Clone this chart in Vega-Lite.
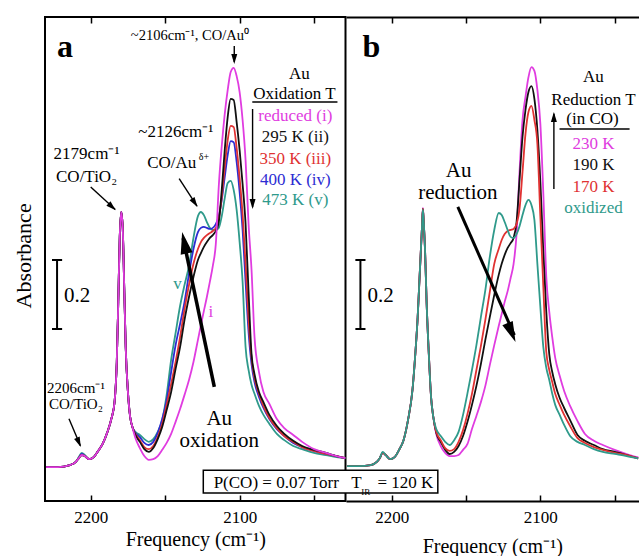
{
  "$schema": "https://vega.github.io/schema/vega-lite/v6.json",
  "background": "white",
  "padding": {"left": 12, "top": 15, "right": 0, "bottom": 0},
  "spacing": 0,
  "bounds": "flush",
  "config": {
    "font": "Liberation Serif",
    "view": {"stroke": "black", "strokeWidth": 2},
    "axis": {"labelFont": "Liberation Serif", "titleFont": "Liberation Serif", "labelColor": "black", "titleColor": "black", "tickColor": "black", "domainColor": "black", "grid": false, "titleFontWeight": "normal"},
    "text": {"font": "Liberation Serif", "color": "black"}
  },
  "datasets": {
    "specA": [
      {"w":2230,"i":0.098,"ii":0.098,"iii":0.098,"iv":0.098,"v":0.098},
      {"w":2222,"i":0.098,"ii":0.098,"iii":0.098,"iv":0.098,"v":0.098},
      {"w":2214,"i":0.104,"ii":0.104,"iii":0.104,"iv":0.104,"v":0.104},
      {"w":2210,"i":0.113,"ii":0.113,"iii":0.113,"iv":0.113,"v":0.113},
      {"w":2208,"i":0.124,"ii":0.124,"iii":0.124,"iv":0.124,"v":0.127},
      {"w":2206,"i":0.133,"ii":0.133,"iii":0.133,"iv":0.136,"v":0.139},
      {"w":2204,"i":0.130,"ii":0.130,"iii":0.130,"iv":0.130,"v":0.133},
      {"w":2201,"i":0.121,"ii":0.121,"iii":0.121,"iv":0.121,"v":0.121},
      {"w":2198,"i":0.127,"ii":0.127,"iii":0.127,"iv":0.127,"v":0.127},
      {"w":2195,"i":0.145,"ii":0.145,"iii":0.145,"iv":0.145,"v":0.145},
      {"w":2192,"i":0.165,"ii":0.165,"iii":0.165,"iv":0.165,"v":0.165},
      {"w":2189,"i":0.197,"ii":0.197,"iii":0.197,"iv":0.197,"v":0.197},
      {"w":2186,"i":0.240,"ii":0.240,"iii":0.240,"iv":0.240,"v":0.240},
      {"w":2184,"i":0.286,"ii":0.286,"iii":0.286,"iv":0.286,"v":0.286},
      {"w":2182.5,"i":0.402,"ii":0.402,"iii":0.402,"iv":0.402,"v":0.402},
      {"w":2181.5,"i":0.576,"ii":0.576,"iii":0.576,"iv":0.576,"v":0.576},
      {"w":2180.5,"i":0.764,"ii":0.764,"iii":0.764,"iv":0.764,"v":0.764},
      {"w":2179.5,"i":0.836,"ii":0.836,"iii":0.836,"iv":0.836,"v":0.836},
      {"w":2178.5,"i":0.790,"ii":0.790,"iii":0.790,"iv":0.790,"v":0.790},
      {"w":2177.5,"i":0.619,"ii":0.619,"iii":0.619,"iv":0.619,"v":0.619},
      {"w":2176.5,"i":0.445,"ii":0.445,"iii":0.445,"iv":0.445,"v":0.445},
      {"w":2175,"i":0.315,"ii":0.315,"iii":0.315,"iv":0.315,"v":0.315},
      {"w":2173.5,"i":0.243,"ii":0.243,"iii":0.243,"iv":0.243,"v":0.243},
      {"w":2172,"i":0.214,"ii":0.214,"iii":0.214,"iv":0.214,"v":0.214},
      {"w":2170,"i":0.182,"ii":0.191,"iii":0.194,"iv":0.197,"v":0.200},
      {"w":2167,"i":0.153,"ii":0.171,"iii":0.176,"iv":0.185,"v":0.191},
      {"w":2164,"i":0.130,"ii":0.150,"iii":0.156,"iv":0.168,"v":0.179},
      {"w":2161,"i":0.119,"ii":0.142,"iii":0.150,"iv":0.162,"v":0.171},
      {"w":2158,"i":0.121,"ii":0.153,"iii":0.159,"iv":0.171,"v":0.179},
      {"w":2155,"i":0.130,"ii":0.179,"iii":0.185,"iv":0.197,"v":0.200},
      {"w":2152,"i":0.148,"ii":0.214,"iii":0.223,"iv":0.237,"v":0.234},
      {"w":2149,"i":0.168,"ii":0.263,"iii":0.278,"iv":0.292,"v":0.307},
      {"w":2146,"i":0.194,"ii":0.315,"iii":0.338,"iv":0.373,"v":0.408},
      {"w":2143,"i":0.229,"ii":0.382,"iii":0.402,"iv":0.451,"v":0.486},
      {"w":2140,"i":0.266,"ii":0.445,"iii":0.474,"iv":0.512,"v":0.564},
      {"w":2137,"i":0.307,"ii":0.524,"iii":0.555,"iv":0.576,"v":0.625},
      {"w":2134,"i":0.350,"ii":0.590,"iii":0.625,"iv":0.657,"v":0.680},
      {"w":2131,"i":0.402,"ii":0.648,"iii":0.686,"iv":0.729,"v":0.761},
      {"w":2128,"i":0.466,"ii":0.697,"iii":0.729,"iv":0.778,"v":0.824},
      {"w":2126,"i":0.509,"ii":0.717,"iii":0.749,"iv":0.790,"v":0.836},
      {"w":2124,"i":0.550,"ii":0.735,"iii":0.761,"iv":0.793,"v":0.827},
      {"w":2122,"i":0.590,"ii":0.749,"iii":0.769,"iv":0.790,"v":0.807},
      {"w":2120,"i":0.634,"ii":0.761,"iii":0.775,"iv":0.787,"v":0.790},
      {"w":2118,"i":0.680,"ii":0.769,"iii":0.781,"iv":0.790,"v":0.784},
      {"w":2116,"i":0.743,"ii":0.781,"iii":0.790,"iv":0.801,"v":0.784},
      {"w":2114,"i":0.911,"ii":0.807,"iii":0.816,"iv":0.824,"v":0.790},
      {"w":2112,"i":1.027,"ii":0.900,"iii":0.879,"iv":0.871,"v":0.824},
      {"w":2110,"i":1.119,"ii":1.015,"iii":0.966,"iv":0.937,"v":0.876},
      {"w":2108,"i":1.189,"ii":1.111,"iii":1.044,"iv":1.001,"v":0.920},
      {"w":2106,"i":1.241,"ii":1.163,"iii":1.085,"iv":1.041,"v":0.926},
      {"w":2104,"i":1.253,"ii":1.160,"iii":1.082,"iv":1.038,"v":0.900},
      {"w":2102,"i":1.229,"ii":1.096,"iii":1.021,"iv":0.981,"v":0.842},
      {"w":2100,"i":1.183,"ii":1.015,"iii":0.934,"iv":0.894,"v":0.749},
      {"w":2098,"i":1.102,"ii":0.917,"iii":0.830,"iv":0.784,"v":0.634},
      {"w":2096,"i":0.986,"ii":0.801,"iii":0.686,"iv":0.634,"v":0.445},
      {"w":2094,"i":0.801,"ii":0.605,"iii":0.524,"iv":0.489,"v":0.379},
      {"w":2092,"i":0.668,"ii":0.425,"iii":0.414,"iv":0.396,"v":0.336},
      {"w":2090,"i":0.474,"ii":0.367,"iii":0.356,"iv":0.344,"v":0.310},
      {"w":2087,"i":0.373,"ii":0.315,"iii":0.310,"iv":0.301,"v":0.275},
      {"w":2084,"i":0.315,"ii":0.286,"iii":0.275,"iv":0.269,"v":0.249},
      {"w":2080,"i":0.281,"ii":0.249,"iii":0.240,"iv":0.237,"v":0.223},
      {"w":2075,"i":0.237,"ii":0.217,"iii":0.211,"iv":0.208,"v":0.194},
      {"w":2070,"i":0.211,"ii":0.194,"iii":0.188,"iv":0.188,"v":0.176},
      {"w":2064,"i":0.191,"ii":0.174,"iii":0.171,"iv":0.168,"v":0.159},
      {"w":2058,"i":0.171,"ii":0.159,"iii":0.156,"iv":0.156,"v":0.150},
      {"w":2050,"i":0.150,"ii":0.148,"iii":0.145,"iv":0.145,"v":0.139},
      {"w":2042,"i":0.139,"ii":0.139,"iii":0.136,"iv":0.136,"v":0.133},
      {"w":2035,"i":0.130,"ii":0.130,"iii":0.130,"iv":0.130,"v":0.127},
      {"w":2029,"i":0.124,"ii":0.124,"iii":0.124,"iv":0.124,"v":0.124}
    ],
    "specB": [
      {"w":2230,"K230":0.101,"K190":0.101,"K170":0.101,"oxidized":0.101},
      {"w":2222,"K230":0.101,"K190":0.101,"K170":0.101,"oxidized":0.101},
      {"w":2214,"K230":0.104,"K190":0.104,"K170":0.104,"oxidized":0.104},
      {"w":2210,"K230":0.113,"K190":0.113,"K170":0.113,"oxidized":0.113},
      {"w":2208,"K230":0.124,"K190":0.124,"K170":0.124,"oxidized":0.124},
      {"w":2206,"K230":0.139,"K190":0.139,"K170":0.139,"oxidized":0.142},
      {"w":2204,"K230":0.133,"K190":0.133,"K170":0.133,"oxidized":0.133},
      {"w":2201,"K230":0.121,"K190":0.121,"K170":0.121,"oxidized":0.121},
      {"w":2198,"K230":0.127,"K190":0.127,"K170":0.127,"oxidized":0.127},
      {"w":2195,"K230":0.148,"K190":0.148,"K170":0.148,"oxidized":0.148},
      {"w":2192,"K230":0.176,"K190":0.176,"K170":0.176,"oxidized":0.176},
      {"w":2189,"K230":0.234,"K190":0.234,"K170":0.234,"oxidized":0.234},
      {"w":2186,"K230":0.321,"K190":0.321,"K170":0.321,"oxidized":0.321},
      {"w":2184,"K230":0.431,"K190":0.431,"K170":0.431,"oxidized":0.431},
      {"w":2182.5,"K230":0.532,"K190":0.532,"K170":0.532,"oxidized":0.532},
      {"w":2181.5,"K230":0.622,"K190":0.622,"K170":0.622,"oxidized":0.622},
      {"w":2180.5,"K230":0.712,"K190":0.712,"K170":0.712,"oxidized":0.712},
      {"w":2179.5,"K230":0.801,"K190":0.801,"K170":0.801,"oxidized":0.801},
      {"w":2179,"K230":0.848,"K190":0.845,"K170":0.845,"oxidized":0.843},
      {"w":2178.5,"K230":0.813,"K190":0.813,"K170":0.813,"oxidized":0.813},
      {"w":2177.5,"K230":0.720,"K190":0.720,"K170":0.720,"oxidized":0.720},
      {"w":2176.5,"K230":0.576,"K190":0.576,"K170":0.576,"oxidized":0.576},
      {"w":2175,"K230":0.425,"K190":0.425,"K170":0.425,"oxidized":0.425},
      {"w":2173.5,"K230":0.301,"K190":0.301,"K170":0.301,"oxidized":0.301},
      {"w":2172,"K230":0.243,"K190":0.243,"K170":0.243,"oxidized":0.243},
      {"w":2170,"K230":0.194,"K190":0.197,"K170":0.200,"oxidized":0.208},
      {"w":2167,"K230":0.159,"K190":0.171,"K170":0.176,"oxidized":0.188},
      {"w":2164,"K230":0.139,"K190":0.148,"K170":0.153,"oxidized":0.171},
      {"w":2161,"K230":0.130,"K190":0.136,"K170":0.145,"oxidized":0.162},
      {"w":2158,"K230":0.130,"K190":0.142,"K170":0.150,"oxidized":0.176},
      {"w":2155,"K230":0.133,"K190":0.159,"K170":0.171,"oxidized":0.200},
      {"w":2152,"K230":0.148,"K190":0.188,"K170":0.205,"oxidized":0.249},
      {"w":2149,"K230":0.165,"K190":0.229,"K170":0.252,"oxidized":0.312},
      {"w":2146,"K230":0.208,"K190":0.278,"K170":0.310,"oxidized":0.379},
      {"w":2143,"K230":0.246,"K190":0.333,"K170":0.379,"oxidized":0.451},
      {"w":2140,"K230":0.286,"K190":0.396,"K170":0.448,"oxidized":0.532},
      {"w":2137,"K230":0.333,"K190":0.466,"K170":0.524,"oxidized":0.610},
      {"w":2134,"K230":0.393,"K190":0.532,"K170":0.605,"oxidized":0.706},
      {"w":2131,"K230":0.451,"K190":0.596,"K170":0.686,"oxidized":0.784},
      {"w":2128,"K230":0.506,"K190":0.654,"K170":0.729,"oxidized":0.833},
      {"w":2126,"K230":0.541,"K190":0.686,"K170":0.755,"oxidized":0.827},
      {"w":2124,"K230":0.576,"K190":0.712,"K170":0.772,"oxidized":0.807},
      {"w":2122,"K230":0.607,"K190":0.732,"K170":0.781,"oxidized":0.784},
      {"w":2120,"K230":0.645,"K190":0.746,"K170":0.784,"oxidized":0.764},
      {"w":2118,"K230":0.686,"K190":0.761,"K170":0.787,"oxidized":0.761},
      {"w":2116,"K230":0.772,"K190":0.807,"K170":0.801,"oxidized":0.772},
      {"w":2114,"K230":0.952,"K190":0.929,"K170":0.845,"oxidized":0.795},
      {"w":2112,"K230":1.102,"K190":1.053,"K170":0.952,"oxidized":0.827},
      {"w":2110,"K230":1.169,"K190":1.131,"K170":1.062,"oxidized":0.856},
      {"w":2108,"K230":1.226,"K190":1.183,"K170":1.125,"oxidized":0.871},
      {"w":2106,"K230":1.255,"K190":1.200,"K170":1.143,"oxidized":0.856},
      {"w":2104,"K230":1.244,"K190":1.163,"K170":1.102,"oxidized":0.813},
      {"w":2102,"K230":1.189,"K190":1.073,"K170":1.033,"oxidized":0.686},
      {"w":2100,"K230":1.091,"K190":0.923,"K170":0.822,"oxidized":0.561},
      {"w":2098,"K230":0.888,"K190":0.720,"K170":0.619,"oxidized":0.445},
      {"w":2096,"K230":0.648,"K190":0.547,"K170":0.431,"oxidized":0.385},
      {"w":2094,"K230":0.547,"K190":0.425,"K170":0.379,"oxidized":0.350},
      {"w":2092,"K230":0.474,"K190":0.373,"K170":0.344,"oxidized":0.310},
      {"w":2090,"K230":0.414,"K190":0.338,"K170":0.310,"oxidized":0.278},
      {"w":2087,"K230":0.362,"K190":0.298,"K170":0.278,"oxidized":0.249},
      {"w":2084,"K230":0.318,"K190":0.269,"K170":0.249,"oxidized":0.220},
      {"w":2080,"K230":0.275,"K190":0.234,"K170":0.217,"oxidized":0.188},
      {"w":2075,"K230":0.231,"K190":0.191,"K170":0.182,"oxidized":0.171},
      {"w":2070,"K230":0.194,"K190":0.174,"K170":0.168,"oxidized":0.162},
      {"w":2064,"K230":0.174,"K190":0.162,"K170":0.156,"oxidized":0.150},
      {"w":2058,"K230":0.162,"K190":0.150,"K170":0.148,"oxidized":0.142},
      {"w":2050,"K230":0.148,"K190":0.142,"K170":0.139,"oxidized":0.136},
      {"w":2042,"K230":0.136,"K190":0.133,"K170":0.133,"oxidized":0.130},
      {"w":2034.2,"K230":0.126,"K190":0.123,"K170":0.123,"oxidized":0.123}
    ]
  },
  "hconcat": [
    {
      "width": 300.5,
      "height": 484,
      "resolve": {"axis": {"x": "independent"}},
      "layer": [
        {
          "data": {"name": "specA"},
          "transform": [{"fold": ["v", "iv", "iii", "ii", "i"], "as": ["series", "A"]}],
          "mark": {"type": "line", "interpolate": "monotone", "strokeWidth": 1.8},
          "encoding": {
            "x": {"field": "w", "type": "quantitative", "scale": {"domain": [2028.9, 2230.7], "reverse": true, "nice": false, "zero": false},
                  "axis": {"orient": "bottom", "values": [2200, 2150, 2100, 2050], "format": "d", "labelExpr": "datum.value % 100 === 0 ? datum.label : ''", "tickSize": -6, "tickWidth": 1.5, "domain": false, "labelFontSize": 17, "labelPadding": 14, "labelOverlap": false, "title": "Frequency (cm⁻¹)", "titleFontSize": 20, "titlePadding": 4}},
            "y": {"field": "A", "type": "quantitative", "scale": {"domain": [0, 1.4], "nice": false}, "axis": null},
            "color": {"field": "series", "type": "nominal", "legend": null,
                      "scale": {"domain": ["i", "ii", "iii", "iv", "v", "K230", "K190", "K170", "oxidized"], "range": ["#e03ce0", "#111111", "#e03232", "#2c2cd2", "#2f9a8b", "#e03ce0", "#111111", "#e03232", "#2f9a8b"]}}
          }
        },
        {
          "data": {"values": [{"w": 2244.8, "A": 0.709, "label": "Absorbance"}]},
          "mark": {"type": "text", "fontSize": 22, "angle": 270, "align": "center", "baseline": "middle"},
          "encoding": {
            "x": {"field": "w", "type": "quantitative", "axis": null},
            "y": {"field": "A", "type": "quantitative", "axis": null},
            "text": {"field": "label"}
          }
        },
        {
          "data": {"values": [
            {"w": 2222.6, "A": 0.4975, "w2": 2222.6, "A2": 0.6971},
            {"w": 2226.0, "A": 0.4975, "w2": 2219.2, "A2": 0.4975},
            {"w": 2226.0, "A": 0.6971, "w2": 2219.2, "A2": 0.6971}
          ]},
          "mark": {"type": "rule", "strokeWidth": 2, "color": "black"},
          "encoding": {
            "x": {"field": "w", "type": "quantitative", "axis": {"orient": "top", "values": [2200, 2150, 2100, 2050], "labels": false, "tickSize": -6, "tickWidth": 1.5, "domain": false, "title": null}},
            "x2": {"field": "w2"},
            "y": {"field": "A", "type": "quantitative", "axis": null},
            "y2": {"field": "A2"}
          }
        },
        {
          "data": {"values": [
            {"w": 2091.5, "A": 1.1542, "w2": 2034.3, "A2": 1.1542},
            {"w": 2103.6, "A": 1.316, "w2": 2103.6, "A2": 1.27},
            {"w": 2091.3, "A": 1.1339, "w2": 2091.3, "A2": 0.85},
            {"w": 2140.6, "A": 0.9323, "w2": 2128.6, "A2": 0.853},
            {"w": 2200.0, "A": 0.9083, "w2": 2183.5, "A2": 0.843},
            {"w": 2214.6, "A": 0.2381, "w2": 2206.9, "A2": 0.16}
          ]},
          "mark": {"type": "rule", "strokeWidth": 1.4, "color": "black"},
          "encoding": {
            "x": {"field": "w", "type": "quantitative", "axis": null},
            "x2": {"field": "w2"},
            "y": {"field": "A", "type": "quantitative", "axis": null},
            "y2": {"field": "A2"}
          }
        },
        {
          "data": {"values": [{"w": 2117.0, "A": 0.3298, "w2": 2137.9, "A2": 0.76}]},
          "mark": {"type": "rule", "strokeWidth": 3.5, "color": "black"},
          "encoding": {
            "x": {"field": "w", "type": "quantitative", "axis": null},
            "x2": {"field": "w2"},
            "y": {"field": "A", "type": "quantitative", "axis": null},
            "y2": {"field": "A2"}
          }
        },
        {
          "data": {"values": [
            {"w": 2103.6, "A": 1.264, "dir": 180},
            {"w": 2091.3, "A": 0.8447, "dir": 180},
            {"w": 2128.3, "A": 0.8505, "dir": 147},
            {"w": 2183.2, "A": 0.8409, "dir": 133},
            {"w": 2206.7, "A": 0.1562, "dir": 157.5}
          ]},
          "mark": {"type": "point", "shape": "M0,0L0.6,2L-0.6,2Z", "filled": true, "color": "black", "opacity": 1, "size": 100},
          "encoding": {
            "x": {"field": "w", "type": "quantitative", "axis": null},
            "y": {"field": "A", "type": "quantitative", "axis": null},
            "angle": {"field": "dir", "type": "quantitative", "scale": null}
          }
        },
        {
          "data": {"values": [{"w": 2138.6, "A": 0.7781, "dir": -11.7}]},
          "mark": {"type": "point", "shape": "M0,0L0.55,2L-0.55,2Z", "filled": true, "color": "black", "opacity": 1, "size": 480},
          "encoding": {
            "x": {"field": "w", "type": "quantitative", "axis": null},
            "y": {"field": "A", "type": "quantitative", "axis": null},
            "angle": {"field": "dir", "type": "quantitative", "scale": null}
          }
        },
        {
          "data": {"values": [{"w": 2124.4, "w2": 1966.9, "A": 0.0231, "A2": 0.0888}]},
          "mark": {"type": "rect", "fill": "white", "stroke": "black", "strokeWidth": 1.5},
          "encoding": {
            "x": {"field": "w", "type": "quantitative", "axis": null},
            "x2": {"field": "w2"},
            "y": {"field": "A", "type": "quantitative", "axis": null},
            "y2": {"field": "A2"}
          }
        },
        {
          "data": {"values": [{"w": 2222.6, "A": 1.284, "label": "a"}]},
          "mark": {"type": "text", "fontSize": 32, "fontWeight": "bold", "align": "left", "baseline": "alphabetic"},
          "encoding": {
            "x": {"field": "w", "type": "quantitative", "axis": null},
            "y": {"field": "A", "type": "quantitative", "axis": null},
            "text": {"field": "label"}
          }
        },
        {
          "data": {"values": [{"w": 2133.4, "A": 1.3335, "label": "~2106cm⁻¹, CO/Au⁰"}]},
          "mark": {"type": "text", "fontSize": 14.5, "align": "center", "baseline": "alphabetic"},
          "encoding": {
            "x": {"field": "w", "type": "quantitative", "axis": null},
            "y": {"field": "A", "type": "quantitative", "axis": null},
            "text": {"field": "label"}
          }
        },
        {
          "data": {"values": [
            {"w": 2142.8, "A": 1.053, "label": "~2126cm⁻¹"},
            {"w": 2202.8, "A": 0.9902, "label": "2179cm⁻¹"},
            {"w": 2202.8, "A": 0.9228, "label": "CO/TiO₂"},
            {"w": 2059.9, "A": 1.2207, "label": "Au"},
            {"w": 2063.2, "A": 1.1629, "label": "Oxidation T"},
            {"w": 2075.4, "A": 0.0376, "label": "P(CO) = 0.07 Torr"}
          ]},
          "mark": {"type": "text", "fontSize": 17, "align": "center", "baseline": "alphabetic"},
          "encoding": {
            "x": {"field": "w", "type": "quantitative", "axis": null},
            "y": {"field": "A", "type": "quantitative", "axis": null},
            "text": {"field": "label"}
          }
        },
        {
          "data": {"values": [{"w": 2162.1, "A": 0.9641, "label": "CO/Au"}]},
          "mark": {"type": "text", "fontSize": 17, "align": "left", "baseline": "alphabetic"},
          "encoding": {
            "x": {"field": "w", "type": "quantitative", "axis": null},
            "y": {"field": "A", "type": "quantitative", "axis": null},
            "text": {"field": "label"}
          }
        },
        {
          "data": {"values": [{"w": 2127.5, "A": 0.9864, "label": "δ+"}]},
          "mark": {"type": "text", "fontSize": 10, "align": "left", "baseline": "alphabetic"},
          "encoding": {
            "x": {"field": "w", "type": "quantitative", "axis": null},
            "y": {"field": "A", "type": "quantitative", "axis": null},
            "text": {"field": "label"}
          }
        },
        {
          "data": {"values": [
            {"w": 2062.6, "A": 1.0992, "label": "reduced (i)", "series": "i"},
            {"w": 2062.6, "A": 1.0385, "label": "295 K (ii)", "series": "ii"},
            {"w": 2062.6, "A": 0.9748, "label": "350 K (iii)", "series": "iii"},
            {"w": 2062.6, "A": 0.9141, "label": "400 K (iv)", "series": "iv"},
            {"w": 2062.6, "A": 0.8562, "label": "473 K (v)", "series": "v"},
            {"w": 2141.7, "A": 0.6133, "label": "v", "series": "v"},
            {"w": 2119.3, "A": 0.5323, "label": "i", "series": "i"}
          ]},
          "mark": {"type": "text", "fontSize": 17, "align": "center", "baseline": "alphabetic"},
          "encoding": {
            "x": {"field": "w", "type": "quantitative", "axis": null},
            "y": {"field": "A", "type": "quantitative", "axis": null},
            "text": {"field": "label"},
            "color": {"field": "series", "type": "nominal", "legend": null,
                      "scale": {"domain": ["i", "ii", "iii", "iv", "v", "K230", "K190", "K170", "oxidized"], "range": ["#e03ce0", "#111111", "#e03232", "#2c2cd2", "#2f9a8b", "#e03ce0", "#111111", "#e03232", "#2f9a8b"]}}
          }
        },
        {
          "data": {"values": [
            {"w": 2113.7, "A": 0.2198, "label": "Au"},
            {"w": 2113.7, "A": 0.1562, "label": "oxidation"}
          ]},
          "mark": {"type": "text", "fontSize": 21, "align": "center", "baseline": "alphabetic"},
          "encoding": {
            "x": {"field": "w", "type": "quantitative", "axis": null},
            "y": {"field": "A", "type": "quantitative", "axis": null},
            "text": {"field": "label"}
          }
        },
        {
          "data": {"values": [{"w": 2217.9, "A": 0.5756, "label": "0.2"}]},
          "mark": {"type": "text", "fontSize": 21, "align": "left", "baseline": "alphabetic"},
          "encoding": {
            "x": {"field": "w", "type": "quantitative", "axis": null},
            "y": {"field": "A", "type": "quantitative", "axis": null},
            "text": {"field": "label"}
          }
        },
        {
          "data": {"values": [
            {"w": 2209.9, "A": 0.3124, "label": "2206cm⁻¹"},
            {"w": 2209.9, "A": 0.2661, "label": "CO/TiO₂"}
          ]},
          "mark": {"type": "text", "fontSize": 15, "align": "center", "baseline": "alphabetic"},
          "encoding": {
            "x": {"field": "w", "type": "quantitative", "axis": null},
            "y": {"field": "A", "type": "quantitative", "axis": null},
            "text": {"field": "label"}
          }
        }
      ]
    },
    {
      "width": 292.5,
      "height": 484,
      "view": {"stroke": null},
      "resolve": {"axis": {"x": "independent"}},
      "layer": [
        {
          "data": {"name": "specB"},
          "transform": [{"fold": ["K230", "K190", "K170", "oxidized"], "as": ["series", "A"]}],
          "mark": {"type": "line", "interpolate": "monotone", "strokeWidth": 1.8},
          "encoding": {
            "x": {"field": "w", "type": "quantitative", "scale": {"domain": [2034.0, 2230.7], "reverse": true, "nice": false, "zero": false},
                  "axis": {"orient": "bottom", "values": [2200, 2150, 2100, 2050], "format": "d", "labelExpr": "datum.value % 100 === 0 ? datum.label : ''", "tickSize": -6, "tickWidth": 1.5, "domain": true, "domainWidth": 2, "labelFontSize": 17, "labelPadding": 14, "labelOverlap": false, "title": "Frequency (cm⁻¹)", "titleFontSize": 20, "titlePadding": 11}},
            "y": {"field": "A", "type": "quantitative", "scale": {"domain": [0, 1.4], "nice": false}, "axis": null},
            "color": {"field": "series", "type": "nominal", "legend": null,
                      "scale": {"domain": ["i", "ii", "iii", "iv", "v", "K230", "K190", "K170", "oxidized"], "range": ["#e03ce0", "#111111", "#e03232", "#2c2cd2", "#2f9a8b", "#e03ce0", "#111111", "#e03232", "#2f9a8b"]}}
          }
        },
        {
          "data": {"values": [
            {"w": 2221.0, "A": 0.4975, "w2": 2221.0, "A2": 0.6971},
            {"w": 2224.4, "A": 0.4975, "w2": 2217.6, "A2": 0.4975},
            {"w": 2224.4, "A": 0.6971, "w2": 2217.6, "A2": 0.6971}
          ]},
          "mark": {"type": "rule", "strokeWidth": 2, "color": "black"},
          "encoding": {
            "x": {"field": "w", "type": "quantitative", "axis": {"orient": "top", "values": [2200, 2150, 2100, 2050], "labels": false, "tickSize": -6, "tickWidth": 1.5, "domain": true, "domainWidth": 2, "title": null}},
            "x2": {"field": "w2"},
            "y": {"field": "A", "type": "quantitative", "axis": null},
            "y2": {"field": "A2"}
          }
        },
        {
          "data": {"values": [
            {"w": 2087.1, "A": 1.076, "w2": 2040.0, "A2": 1.076},
            {"w": 2090.9, "A": 0.9025, "w2": 2090.9, "A2": 1.12}
          ]},
          "mark": {"type": "rule", "strokeWidth": 1.4, "color": "black"},
          "encoding": {
            "x": {"field": "w", "type": "quantitative", "axis": null},
            "x2": {"field": "w2"},
            "y": {"field": "A", "type": "quantitative", "axis": null},
            "y2": {"field": "A2"}
          }
        },
        {
          "data": {"values": [{"w": 2155.5, "A": 0.8505, "w2": 2117.5, "A2": 0.48}]},
          "mark": {"type": "rule", "strokeWidth": 3, "color": "black"},
          "encoding": {
            "x": {"field": "w", "type": "quantitative", "axis": null},
            "x2": {"field": "w2"},
            "y": {"field": "A", "type": "quantitative", "axis": null},
            "y2": {"field": "A2"}
          }
        },
        {
          "data": {"values": [{"w": 2090.9, "A": 1.1253, "dir": 0}]},
          "mark": {"type": "point", "shape": "M0,0L0.6,2L-0.6,2Z", "filled": true, "color": "black", "opacity": 1, "size": 100},
          "encoding": {
            "x": {"field": "w", "type": "quantitative", "axis": null},
            "y": {"field": "A", "type": "quantitative", "axis": null},
            "angle": {"field": "dir", "type": "quantitative", "scale": null}
          }
        },
        {
          "data": {"values": [{"w": 2116.7, "A": 0.4599, "dir": 157.1}]},
          "mark": {"type": "point", "shape": "M0,0L0.55,2L-0.55,2Z", "filled": true, "color": "black", "opacity": 1, "size": 420},
          "encoding": {
            "x": {"field": "w", "type": "quantitative", "axis": null},
            "y": {"field": "A", "type": "quantitative", "axis": null},
            "angle": {"field": "dir", "type": "quantitative", "scale": null}
          }
        },
        {
          "data": {"values": [{"w": 2219.6, "A": 1.284, "label": "b"}]},
          "mark": {"type": "text", "fontSize": 32, "fontWeight": "bold", "align": "left", "baseline": "alphabetic"},
          "encoding": {
            "x": {"field": "w", "type": "quantitative", "axis": null},
            "y": {"field": "A", "type": "quantitative", "axis": null},
            "text": {"field": "label"}
          }
        },
        {
          "data": {"values": [
            {"w": 2064.3, "A": 1.212, "label": "Au"},
            {"w": 2064.3, "A": 1.1455, "label": "Reduction T"},
            {"w": 2064.9, "A": 1.0905, "label": "(in CO)"}
          ]},
          "mark": {"type": "text", "fontSize": 17, "align": "center", "baseline": "alphabetic"},
          "encoding": {
            "x": {"field": "w", "type": "quantitative", "axis": null},
            "y": {"field": "A", "type": "quantitative", "axis": null},
            "text": {"field": "label"}
          }
        },
        {
          "data": {"values": [
            {"w": 2227.2, "A": 0.0376, "label": "T"},
            {"w": 2209.5, "A": 0.0376, "label": "= 120 K"}
          ]},
          "mark": {"type": "text", "fontSize": 17, "align": "left", "baseline": "alphabetic"},
          "encoding": {
            "x": {"field": "w", "type": "quantitative", "axis": null},
            "y": {"field": "A", "type": "quantitative", "axis": null},
            "text": {"field": "label"}
          }
        },
        {
          "data": {"values": [{"w": 2220.5, "A": 0.0174, "label": "IR"}]},
          "mark": {"type": "text", "fontSize": 9, "align": "left", "baseline": "alphabetic"},
          "encoding": {
            "x": {"field": "w", "type": "quantitative", "axis": null},
            "y": {"field": "A", "type": "quantitative", "axis": null},
            "text": {"field": "label"}
          }
        },
        {
          "data": {"values": [
            {"w": 2064.3, "A": 1.019, "label": "230 K", "series": "K230"},
            {"w": 2064.3, "A": 0.9575, "label": "190 K", "series": "K190"},
            {"w": 2064.3, "A": 0.8938, "label": "170 K", "series": "K170"},
            {"w": 2064.3, "A": 0.833, "label": "oxidized", "series": "oxidized"}
          ]},
          "mark": {"type": "text", "fontSize": 17, "align": "center", "baseline": "alphabetic"},
          "encoding": {
            "x": {"field": "w", "type": "quantitative", "axis": null},
            "y": {"field": "A", "type": "quantitative", "axis": null},
            "text": {"field": "label"},
            "color": {"field": "series", "type": "nominal", "legend": null,
                      "scale": {"domain": ["i", "ii", "iii", "iv", "v", "K230", "K190", "K170", "oxidized"], "range": ["#e03ce0", "#111111", "#e03232", "#2c2cd2", "#2f9a8b", "#e03ce0", "#111111", "#e03232", "#2f9a8b"]}}
          }
        },
        {
          "data": {"values": [
            {"w": 2155.0, "A": 0.9372, "label": "Au"},
            {"w": 2155.5, "A": 0.8736, "label": "reduction"}
          ]},
          "mark": {"type": "text", "fontSize": 21, "align": "center", "baseline": "alphabetic"},
          "encoding": {
            "x": {"field": "w", "type": "quantitative", "axis": null},
            "y": {"field": "A", "type": "quantitative", "axis": null},
            "text": {"field": "label"}
          }
        },
        {
          "data": {"values": [{"w": 2216.2, "A": 0.5756, "label": "0.2"}]},
          "mark": {"type": "text", "fontSize": 21, "align": "left", "baseline": "alphabetic"},
          "encoding": {
            "x": {"field": "w", "type": "quantitative", "axis": null},
            "y": {"field": "A", "type": "quantitative", "axis": null},
            "text": {"field": "label"}
          }
        }
      ]
    }
  ]
}
